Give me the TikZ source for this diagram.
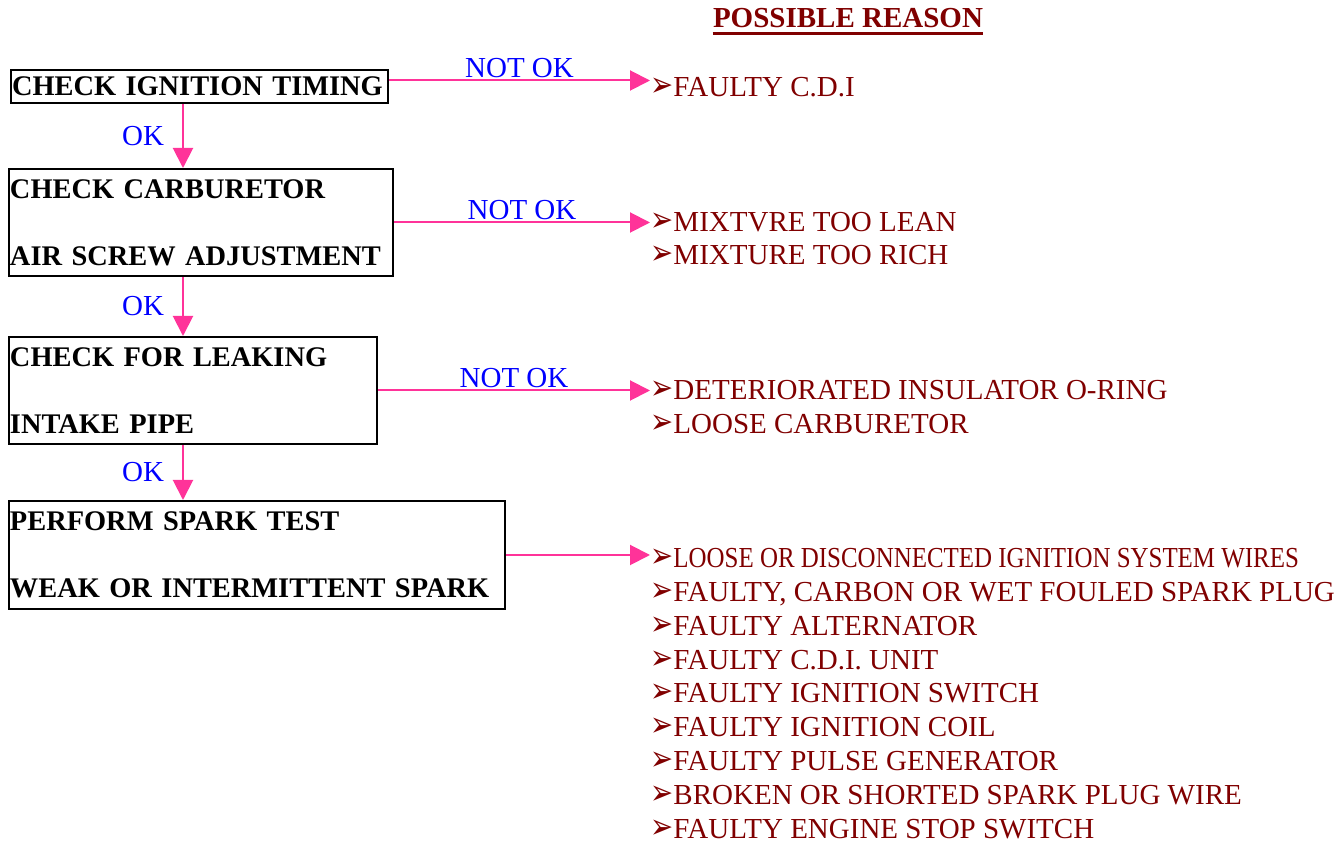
\documentclass[tikz,border=0pt]{standalone}
\usepackage{fontspec}
\setmainfont{Liberation Serif}
\newfontfamily\markfont{DejaVu Sans}
\usepackage{xcolor}
\usepackage{graphicx}
\usetikzlibrary{arrows.meta,positioning}
\definecolor{reasonred}{HTML}{800000}
\definecolor{flowpink}{HTML}{FF3399}
\newcommand{\reasonmark}{{\markfont\scalebox{0.95}[1.2]{➢}}}
\tikzset{
  check-box/.style={draw=black, line width=1pt, align=left, anchor=north west,
    inner xsep=0.5pt, inner ysep=0pt, font=\fontsize{14.2pt}{16.75pt}\bfseries,
    execute at begin node={\hyphenpenalty=10000\exhyphenpenalty=10000\relax}},
  flow-arrow/.style={draw=flowpink, line width=1pt, -{Triangle[length=10pt, width=10pt]}},
  flow-label/.style={text=blue, inner sep=0pt},
  reason-item/.style={text=reasonred, anchor=base west, inner sep=0pt}
}

\begin{document}
\begin{tikzpicture}[x=0.5pt, y=-0.5pt]
  \fontsize{14.5pt}{16.75pt}\selectfont
  \useasboundingbox (0,0) rectangle (1340,844);

  % Heading
  \node[text=reasonred, font=\bfseries, anchor=base, inner sep=0pt] (title) at (848,28)
    {POSSIBLE REASON};
  \draw[reasonred, line width=1.4pt] ([yshift=-2.6pt]title.base west) -- ([yshift=-2.6pt]title.base east);

  % Check boxes
  \node[check-box, text width=187.5pt, minimum height=16.5pt] (b1) at (10,69)
    {CHECK IGNITION TIMING};
  \node[check-box, text width=191pt, minimum height=53.5pt] (b2) at (8,168)
    {CHECK CARBURETOR\\[16.75pt]AIR SCREW ADJUSTMENT};
  \node[check-box, text width=183pt, minimum height=53.5pt] (b3) at (8,336)
    {CHECK FOR LEAKING\\[16.75pt]INTAKE PIPE};
  \node[check-box, text width=247pt, minimum height=54pt] (b4) at (8,500)
    {PERFORM SPARK TEST\\[16.75pt]WEAK OR INTERMITTENT SPARK};

  % Possible reasons
  \node[reason-item] (r1) at (650,97) {\reasonmark FAULTY C.D.I};
  \node[reason-item] (r2-0) at (650,232) {\reasonmark MIXTVRE TOO LEAN};
  \node[reason-item] (r2-1) at (650,265) {\reasonmark MIXTURE TOO RICH};
  \node[reason-item] (r3-0) at (650,400) {\reasonmark DETERIORATED INSULATOR O-RING};
  \node[reason-item] (r3-1) at (650,434) {\reasonmark LOOSE CARBURETOR};
  \node[reason-item] (r4-0) at (650,568)
    {\reasonmark\scalebox{0.86}[1]{LOOSE OR DISCONNECTED IGNITION SYSTEM WIRES}};
  \foreach \txt [count=\i] in {{FAULTY, CARBON OR WET FOULED SPARK PLUG}, FAULTY ALTERNATOR,
      FAULTY C.D.I. UNIT, FAULTY IGNITION SWITCH, FAULTY IGNITION COIL,
      FAULTY PULSE GENERATOR, BROKEN OR SHORTED SPARK PLUG WIRE, FAULTY ENGINE STOP SWITCH}
    \node[reason-item] (r4-\i) at (650,568+33.75*\i) {\reasonmark\txt};

  % OK path
  \coordinate (spine) at (183,0);
  \draw[flow-arrow] (b1.south -| spine) -- node[flow-label, left=9pt] {OK} (b2.north -| spine);
  \draw[flow-arrow] (b2.south -| spine) -- node[flow-label, left=9pt] {OK} (b3.north -| spine);
  \draw[flow-arrow] (b3.south -| spine) -- node[flow-label, left=9pt] {OK} (b4.north -| spine);

  % NOT OK path
  \draw[flow-arrow] ([yshift=3pt]b1.east) -- node[flow-label, above=1pt] {NOT OK}
    ([yshift=3pt]b1.east -| r1.west);
  \draw[flow-arrow] (b2.east) -- node[flow-label, above=1pt] {NOT OK} (b2.east -| r2-0.west);
  \draw[flow-arrow] (b3.east) -- node[flow-label, above=1pt] {NOT OK} (b3.east -| r3-0.west);
  \draw[flow-arrow] (b4.east) -- (b4.east -| r4-0.west);
\end{tikzpicture}
\end{document}
